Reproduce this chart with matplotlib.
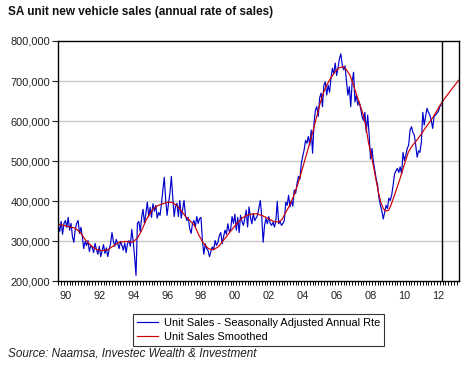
import numpy as np
import matplotlib
matplotlib.use("Agg")
import matplotlib.pyplot as plt
from matplotlib.ticker import FuncFormatter, MultipleLocator

plt.rcParams['font.family'] = ['Liberation Sans', 'DejaVu Sans']

# Monthly seasonally adjusted annual rate, Jan 1990 - Aug 2012
sales_sa = [
    340, 325, 350, 318, 345, 352, 335, 360, 328, 345, 312, 298,   # 1990
    330, 345, 352, 320, 335, 312, 282, 300, 290, 302, 275, 290,   # 1991
    285, 272, 295, 280, 268, 288, 262, 276, 292, 270, 284, 262,   # 1992
    280, 295, 322, 300, 288, 305, 295, 282, 300, 290, 278, 296,   # 1993
    272, 295, 302, 288, 330, 300, 262, 215, 345, 350, 325, 360,   # 1994
    380, 345, 370, 398, 362, 385, 360, 394, 375, 390, 358, 372,   # 1995
    365, 392, 428, 460, 405, 365, 395, 420, 462, 410, 362, 388,   # 1996
    395, 362, 402, 358, 380, 402, 365, 352, 360, 332, 320, 345,   # 1997
    352, 336, 362, 345, 357, 360, 302, 268, 294, 282, 277, 262,   # 1998
    275, 286, 280, 302, 290, 298, 315, 322, 294, 312, 328, 318,   # 1999
    344, 325, 330, 362, 345, 368, 328, 360, 322, 365, 350, 340,   # 2000
    357, 378, 336, 386, 360, 344, 370, 352, 358, 365, 384, 402,   # 2001
    362, 298, 340, 357, 344, 362, 345, 340, 348, 336, 352, 400,   # 2002
    344, 350, 340, 345, 352, 398, 390, 415, 386, 402, 388, 428,   # 2003
    420, 445, 462, 455, 494, 512, 528, 552, 545, 562, 540, 578,   # 2004
    520, 595, 628, 636, 612, 658, 670, 636, 690, 698, 665, 690,   # 2005
    672, 706, 732, 718, 745, 714, 732, 756, 768, 740, 728, 738,   # 2006
    698, 665, 686, 636, 698, 722, 648, 665, 640, 648, 632, 612,   # 2007
    602, 622, 572, 615, 568, 506, 532, 500, 478, 456, 440, 408,   # 2008
    390, 376, 356, 372, 390, 382, 408, 402, 416, 440, 468, 476,   # 2009
    482, 472, 486, 468, 522, 502, 515, 532, 540, 578, 586, 572,   # 2010
    565, 540, 510, 526, 522, 548, 622, 590, 612, 632, 622, 615,   # 2011
    602, 582, 612, 615, 620, 624, 636, 640,                       # 2012
]

# Smoothed trend, decimal years
smooth_years = [
    1990.0, 1990.5, 1991.0, 1991.3, 1991.63, 1992.0, 1992.3, 1992.6, 1992.9,
    1993.3, 1993.6, 1994.0, 1994.4, 1994.7, 1994.9, 1995.2, 1995.57, 1995.9,
    1996.16, 1996.5, 1996.75, 1997.1, 1997.53, 1997.77, 1998.03, 1998.3,
    1998.55, 1998.85, 1999.15, 1999.45, 1999.73, 2000.1, 2000.52, 2000.8,
    2001.11, 2001.4, 2001.7, 2002.05, 2002.39, 2002.7, 2002.98, 2003.2,
    2003.37, 2003.6, 2003.86, 2004.06, 2004.26, 2004.45, 2004.65, 2004.85,
    2005.04, 2005.24, 2005.44, 2005.63, 2005.83, 2006.05, 2006.32, 2006.55,
    2006.81, 2007.0, 2007.2, 2007.4, 2007.6, 2007.8, 2007.99, 2008.15,
    2008.29, 2008.44, 2008.58, 2008.73, 2008.88, 2009.03, 2009.17, 2009.3,
    2009.47, 2009.6, 2009.76, 2009.95, 2010.16, 2010.4, 2010.65, 2010.9,
    2011.14, 2011.4, 2011.63, 2011.9, 2012.12, 2012.32, 2012.52, 2012.75,
    2013.01, 2013.3, 2013.62,
]
smooth_vals = [
    343, 338, 333, 322, 302, 287, 279, 277, 279,
    290, 298, 300, 298, 310, 326, 355, 380, 390,
    394, 398, 397, 385, 361, 352, 340, 315,
    296, 282, 279, 287, 302, 322, 344, 357,
    365, 368, 369, 364, 357, 350, 348, 355,
    369, 386, 411, 434, 461, 489, 519, 548,
    578, 611, 644, 670, 690, 706, 723, 733,
    736, 728, 715, 692, 665, 640, 615, 585,
    548, 519, 490, 456, 423, 397, 382, 376,
    377, 388, 407, 430, 457, 490, 523, 540,
    552, 567, 582, 597, 611, 625, 640, 654,
    669, 685, 702,
]

year_labels = ['90', '92', '94', '96', '98', '00', '02', '04', '06', '08', '10', '12']
label_years = list(range(1990, 2013, 2))
forecast_start = 2012.64

sa_years = 1990 + np.arange(len(sales_sa)) / 12.0
sa_vals = np.array(sales_sa) * 1000
sm_vals = np.array(smooth_vals) * 1000

fig = plt.figure(figsize=(4.65, 3.66), dpi=100)
ax = fig.add_axes([0.1254, 0.2309, 0.8611, 0.6571])

ax.plot(sa_years, sa_vals, color='#0000CC', lw=0.85,
        label='Unit Sales - Seasonally Adjusted Annual Rte')
ax.plot(smooth_years, sm_vals, color='#CC0000', lw=0.85,
        label='Unit Sales Smoothed')
ax.axvline(forecast_start, color='black', lw=1)

ax.set_xlim(1990, 2013.62)
ax.set_ylim(200000, 800000)

# grid
for v in range(300000, 800000, 100000):
    ax.axhline(v, color='#C8C8C8', lw=1, zorder=0)

ax.yaxis.set_major_locator(MultipleLocator(100000))
ax.yaxis.set_major_formatter(FuncFormatter(lambda v, p: f"{int(v):,}"))
ax.set_xticks([y + 0.42 for y in label_years])
ax.set_xticklabels(year_labels)
ax.xaxis.set_minor_locator(MultipleLocator(1 / 6))
ax.tick_params(axis='y', length=4, width=0.8, pad=2, labelsize=7.9, colors='#222222')
ax.tick_params(axis='x', which='major', length=0, pad=7, labelsize=7.9, colors='#222222')
ax.tick_params(axis='x', which='minor', length=3, width=0.7)
ax.tick_params(top=False, right=False)
for s in ax.spines.values():
    s.set_linewidth(1)

fig.text(8 / 465, 1 - 12 / 366, 'SA unit new vehicle sales (annual rate of sales)',
         fontsize=8.5, fontweight='bold', ha='left', va='center', color='#111111')
fig.text(8 / 465, 1 - 354 / 366, 'Source: Naamsa, Investec Wealth & Investment',
         fontsize=8.5, style='italic', ha='left', va='center', color='#222222')

leg = fig.legend(loc='center', bbox_to_anchor=(258.5 / 465, 1 - 330 / 366),
                 fontsize=7.9, frameon=True, fancybox=False, edgecolor='black',
                 handlelength=1.9, handletextpad=0.5, borderpad=0.35,
                 labelspacing=0.35, borderaxespad=0)
leg.get_frame().set_linewidth(0.8)

fig.savefig('out.png', dpi=100)
